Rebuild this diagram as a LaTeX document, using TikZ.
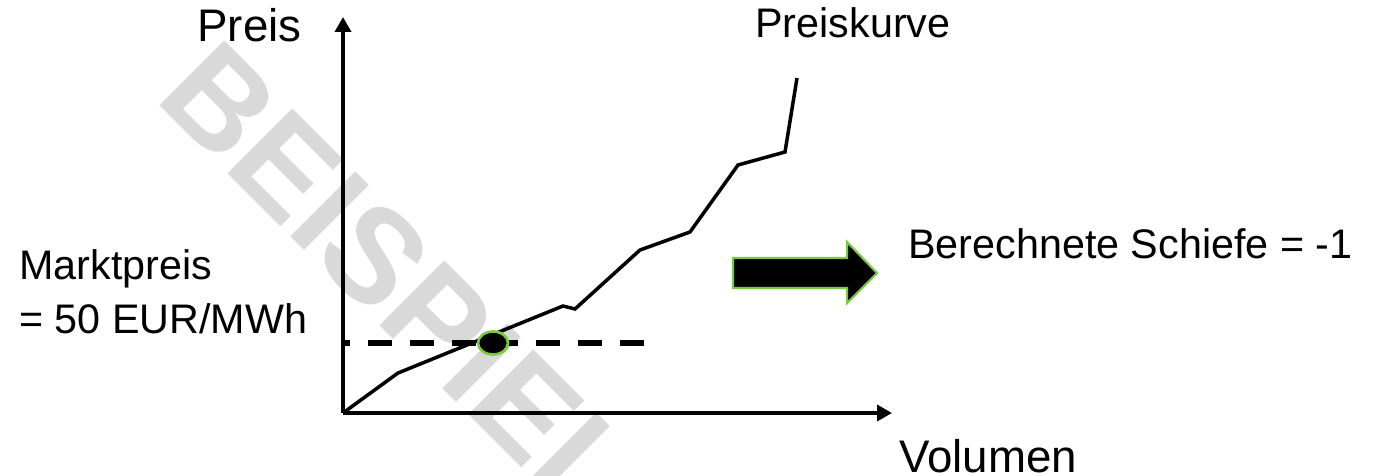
\documentclass[tikz,border=0pt]{standalone}
\usepackage{fontspec}
\setmainfont{Liberation Sans}
\usetikzlibrary{arrows.meta,shapes.geometric}
\definecolor{markgreen}{RGB}{122,201,67}
\definecolor{stampgray}{RGB}{217,217,217}
\tikzset{
  axis/.style={line width=2pt,-{Triangle[length=0.3cm,width=0.32cm]}},
  lbl/.style={anchor=base west,inner sep=0pt,font=\fontsize{23.5}{30.6}\selectfont},
  biglbl/.style={anchor=base west,inner sep=0pt,font=\fontsize{26}{31}\selectfont},
}
\begin{document}
\begin{tikzpicture}[x=0.02cm,y=-0.02cm]
    \useasboundingbox (0,0) rectangle (1375,476);
    % watermark
    \node[rotate=-45,text=stampgray,font=\fontsize{76}{76}\selectfont\bfseries] (stamp) at (401,282) {BEISPIEL};

    \coordinate (o) at (343,413);
    \coordinate (ytop) at (343,17);
    \coordinate (xend) at (892,413);
    \draw[axis] (o) -- (ytop);
    \draw[axis] (o) -- (xend);

    % market price line
    \coordinate (dl) at (343,343);
    \coordinate (dr) at (645,343);
    \draw[line width=3.1pt,dash pattern=on 0.48cm off 0.36cm,dash phase=0.34cm] (dl) -- (dr);

    % price curve
    \draw[line width=2pt] (o) -- (398,373) -- (563,306) -- (575,309) -- (640,250)
        -- (690,232) -- (738,165) -- (785,152) -- (797,78);
    \node[draw=markgreen,fill=black,ellipse,line width=1.5pt,inner sep=0pt,
        minimum width=0.6cm,minimum height=0.46cm] (mp) at (493,343) {};

    % block arrow
    \draw[draw=markgreen,fill=black,line width=1.2pt] (733,258) -- (847,258) -- (847,242)
        -- (877,273) -- (847,303) -- (847,288) -- (733,288) -- cycle;

    \node[biglbl] (preis) at (197,42) {Preis};
    \node[biglbl] (vol) at (899,472) {Volumen};
    \node[lbl] (kurve) at (755,38) {Preiskurve};
    \node[lbl,align=left] (markt) at (19,333) {Marktpreis\\= 50 EUR/MWh};
    \node[lbl] (schiefe) at (908,258) {Berechnete Schiefe = -1};
\end{tikzpicture}
\end{document}
